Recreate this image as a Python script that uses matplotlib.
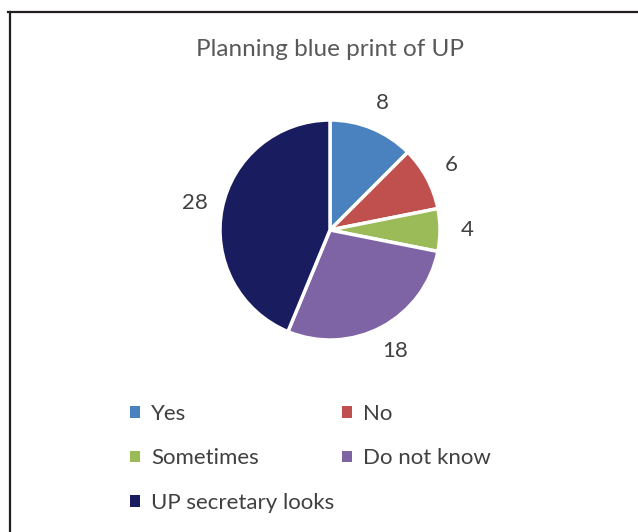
import matplotlib.pyplot as plt
from matplotlib.lines import Line2D
from matplotlib.patches import Patch

categories = ['Yes', 'No', 'Sometimes', 'Do not know', 'UP secretary looks']
counts = [8, 6, 4, 18, 28]
colors = ['#4a81bf', '#c0504d', '#9bbb59', '#7e64a5', '#1a1c60']

plt.rcParams['font.family'] = ['Lato', 'DejaVu Sans']

fig = plt.figure(figsize=(6.38, 5.32), dpi=100)
W, H = 638, 532

# pie area, centre (330, 230) px, radius 110 px
cx, cy, r = 330, 230, 110
ax = fig.add_axes([(cx - r) / W, 1 - (cy + r) / H, 2 * r / W, 2 * r / H])
wedges, texts, autotexts = ax.pie(
    counts, colors=colors, startangle=90, counterclock=False,
    autopct=lambda p: f'{round(p * sum(counts) / 100)}', pctdistance=1.25,
    wedgeprops=dict(edgecolor='white', linewidth=2.5),
    textprops=dict(fontsize=16, color='#404040'))
ax.set_xlim(-1, 1)
ax.set_ylim(-1, 1)
ax.set_aspect('equal')

fig.text(cx / W, 1 - 49 / H, 'Planning blue print of UP', ha='center', va='center',
         fontsize=17.5, color='#595959')

# legend filled row by row: Yes/No, Sometimes/Do not know, UP secretary looks
order = [0, 2, 4, 1, 3]
handles = [Patch(facecolor=colors[i], edgecolor='none') for i in order]
labels = [categories[i] for i in order]
fig.legend(handles, labels, ncol=2, loc='upper left',
           bbox_to_anchor=(110 / W, 1 - 384 / H), frameon=False,
           fontsize=16, labelcolor='#404040', handlelength=0.45, handleheight=0.45,
           handletextpad=0.5, labelspacing=1.1, columnspacing=0.35)

# border lines along top and left
fig.add_artist(Line2D([8 / W, 1], [1 - 12 / H, 1 - 12 / H], color='#231f20', linewidth=1.6))
fig.add_artist(Line2D([10 / W, 10 / W], [0, 1 - 12 / H], color='#231f20', linewidth=1.6))

fig.savefig('out.png', dpi=100, facecolor='white')
